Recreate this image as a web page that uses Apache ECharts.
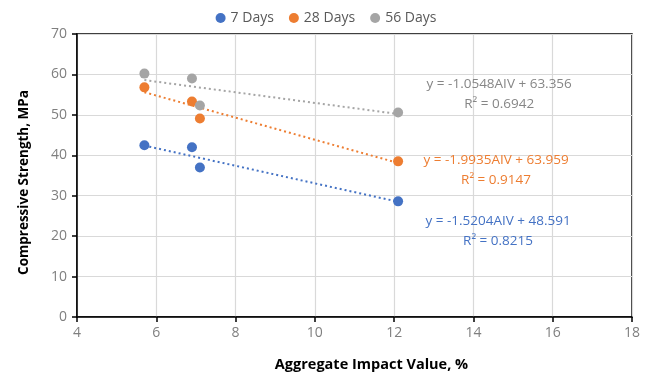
<!DOCTYPE html>
<html><head><meta charset="utf-8">
<script src="https://cdn.jsdelivr.net/npm/echarts@6/dist/echarts.min.js"></script>
<style>html,body{margin:0;padding:0;background:#fff}#c{width:652px;height:377px}</style>
</head><body><div id="c"></div>
<script>
const seriesNames = ['7 Days', '28 Days', '56 Days'];
const xValues = [5.7, 6.9, 7.1, 12.1];
const days7 = [42.5, 42.0, 37.0, 28.6];
const days28 = [56.8, 53.3, 49.1, 38.5];
const days56 = [60.2, 59.0, 52.3, 50.6];
const trendX = [5.7, 12.1];
const trend7 = [42.4, 28.5];
const trend28 = [55.6, 38.1];
const trend56 = [58.6, 50.2];
const eqText = ['y = -1.5204AIV + 48.591\nR² = 0.8215', 'y = -1.9935AIV + 63.959\nR² = 0.9147', 'y = -1.0548AIV + 63.356\nR² = 0.6942'];
const eqAnchor = [[14.62, 21.2], [14.57, 36.2], [14.65, 55.0]];
const xTicks = [4, 6, 8, 10, 12, 14, 16, 18];
const yTicks = [0, 10, 20, 30, 40, 50, 60, 70];

const colors = ['#4472C4', '#ED7D31', '#A5A5A5'];
const textColors = ['#4472C4', '#ED7D31', '#868686'];
const vals = [days7, days28, days56];
const trends = [trend7, trend28, trend56];
const font = 'Open Sans, Liberation Sans, sans-serif';

const series = [];
vals.forEach((v, i) => {
  series.push({
    name: seriesNames[i], type: 'scatter', symbol: 'circle', symbolSize: 10,
    itemStyle: { color: colors[i], opacity: 1 }, z: 5,
    data: xValues.map((x, j) => [x, v[j]])
  });
});
trends.forEach((t, i) => {
  series.push({
    name: seriesNames[i] + ' trend', type: 'line', showSymbol: false, symbol: 'none',
    lineStyle: { color: colors[i], width: 2, type: [2, 3] }, z: 3, silent: true,
    data: trendX.map((x, j) => [x, t[j]])
  });
});
series.push({
  type: 'scatter', symbolSize: 0, silent: true, z: 6, itemStyle: { opacity: 1 },
  data: eqAnchor.map((p, i) => ({
    value: p,
    label: { show: true, position: 'inside', formatter: eqText[i], color: textColors[i], opacity: 1,
      fontSize: 13.5, fontFamily: font, lineHeight: 20, align: 'center', verticalAlign: 'middle' }
  }))
});

const chart = echarts.init(document.getElementById('c'), null, { renderer: 'canvas' });
chart.setOption({
  animation: false,
  legend: {
    data: seriesNames, top: 6, left: 'center', icon: 'circle', itemWidth: 10, itemHeight: 10,
    itemGap: 15, textStyle: { color: '#595959', fontSize: 14, fontFamily: font }
  },
  grid: { left: 77, right: 20, top: 34, bottom: 59, show: true, borderColor: '#000', borderWidth: 1.5 },
  xAxis: {
    type: 'value', min: xTicks[0], max: xTicks[xTicks.length - 1], interval: 2,
    name: 'Aggregate Impact Value, %', nameLocation: 'middle', nameGap: 40,
    nameTextStyle: { color: '#000', fontWeight: 'bold', fontSize: 14.5, fontFamily: font, padding: [0, 0, 0, 34] },
    axisLine: { lineStyle: { color: '#000', width: 1.5 } },
    axisTick: { show: true, length: 5, lineStyle: { color: '#000', width: 1.5 } },
    axisLabel: { color: '#7F7F7F', fontSize: 14, fontFamily: font, margin: 9 },
    splitLine: { show: true, lineStyle: { color: '#D9D9D9', width: 1.2 } }
  },
  yAxis: {
    type: 'value', min: yTicks[0], max: yTicks[yTicks.length - 1], interval: 10,
    name: 'Compressive Strength, MPa', nameLocation: 'middle', nameGap: 46,
    nameTextStyle: { color: '#000', fontWeight: 'bold', fontSize: 13.5, fontFamily: font, padding: [0, 14, 0, 0] },
    axisLine: { lineStyle: { color: '#000', width: 1.5 } },
    axisTick: { show: true, length: 5, lineStyle: { color: '#000', width: 1.5 } },
    axisLabel: { color: '#7F7F7F', fontSize: 14, fontFamily: font, margin: 10 },
    splitLine: { show: true, lineStyle: { color: '#D9D9D9', width: 1.2 } }
  },
  series: series
});
</script></body></html>
